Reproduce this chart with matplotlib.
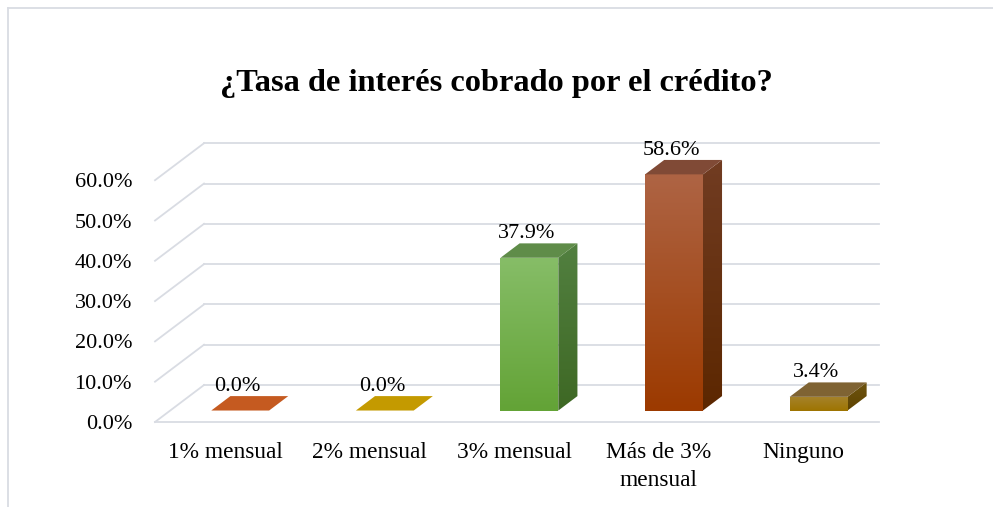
import numpy as np
import matplotlib.pyplot as plt
from matplotlib.patches import Polygon, Rectangle
from matplotlib.colors import LinearSegmentedColormap

plt.rcParams['font.family'] = ['Liberation Serif', 'DejaVu Serif']

# datos
categorias = ['1% mensual', '2% mensual', '3% mensual', 'Más de 3%\nmensual', 'Ninguno']
valores = [0.0, 0.0, 37.9, 58.6, 3.4]
etiquetas = ['0.0%', '0.0%', '37.9%', '58.6%', '3.4%']
ticks = [0, 10, 20, 30, 40, 50, 60]
tick_labels = ['0.0%', '10.0%', '20.0%', '30.0%', '40.0%', '50.0%', '60.0%']
titulo = '¿Tasa de interés cobrado por el crédito?'

# colores: (frente arriba, frente abajo, lado arriba, lado abajo, tapa)
colores = [
    ('#C55A20', '#C55A20', '#8A3C10', '#8A3C10', '#C55A20'),
    ('#C49A00', '#C49A00', '#8A6C00', '#8A6C00', '#C49A00'),
    ('#86BD67', '#63A336', '#528040', '#3E6824', '#5F8C49'),
    ('#AE6444', '#9C3A00', '#713C22', '#5C2700', '#804A36'),
    ('#A5822A', '#9E7400', '#6E5410', '#5E4300', '#7F6333'),
]

W, H = 993, 507
x0px, xstep = 225, 144.6      # pixel de la categoria 0 y paso
y0px, ystep = 422, 4.03       # pixel del 0% y px por 1%
xlim = (-0.484, 4.52)
ylim = (0, 72)
DX, DY = 0.339, 9.18          # profundidad total del piso (en unidades de datos)
f0, f1 = 0.31, 0.70           # profundidad de las barras
ancho = 0.40
grid_c = '#D9DCE3'

fig = plt.figure(figsize=(W / 100, H / 100), dpi=100)
left = (x0px + xlim[0] * xstep) / W
right = (x0px + xlim[1] * xstep) / W
bottom = 1 - (y0px - ylim[0] * ystep) / H
top = 1 - (y0px - ylim[1] * ystep) / H
ax = fig.add_axes([left, bottom, right - left, top - bottom])

xL, xR = xlim
# paredes / lineas de cuadricula
for t in ticks:
    ax.plot([xL, xL + DX], [t, t + DY], color=grid_c, lw=1.3, clip_on=False, zorder=1)
    ax.plot([xL + DX, xR], [t + DY, t + DY], color=grid_c, lw=1.3, clip_on=False, zorder=1)
ax.plot([xL, xR], [0, 0], color=grid_c, lw=1.3, clip_on=False, zorder=1)

dx0, dy0 = f0 * DX, f0 * DY
ddx, ddy = (f1 - f0) * DX, (f1 - f0) * DY


def gradiente(patch, c_top, c_bot, ext):
    cmap = LinearSegmentedColormap.from_list('g', [c_bot, c_top])
    grad = np.linspace(0, 1, 100).reshape(-1, 1)
    im = ax.imshow(grad, cmap=cmap, origin='lower', extent=ext, aspect='auto',
                   zorder=3, clip_on=True)
    im.set_clip_path(patch)


for i, (v, c) in enumerate(zip(valores, colores)):
    xa = i + dx0 - ancho / 2
    xb = i + dx0 + ancho / 2
    yb = dy0
    yt = dy0 + v
    if v > 0:
        front = Rectangle((xa, yb), ancho, v, facecolor='none', edgecolor='none', zorder=3)
        ax.add_patch(front)
        gradiente(front, c[0], c[1], (xa, xb, yb, yt))
        side = Polygon([(xb, yb), (xb + ddx, yb + ddy), (xb + ddx, yt + ddy), (xb, yt)],
                       closed=True, facecolor='none', edgecolor='none', zorder=3)
        ax.add_patch(side)
        gradiente(side, c[2], c[3], (xb, xb + ddx, yb, yt + ddy))
    tapa = Polygon([(xa, yt), (xb, yt), (xb + ddx, yt + ddy), (xa + ddx, yt + ddy)],
                   closed=True, facecolor=c[4], edgecolor='none', zorder=4)
    ax.add_patch(tapa)
    ax.text(i + dx0 - 0.02, yt + ddy, etiquetas[i], ha='center', va='bottom',
            fontsize=16, color='#000000', zorder=5)

ax.set_xlim(*xlim)
ax.set_ylim(*ylim)
ax.set_yticks(ticks)
ax.set_yticklabels(tick_labels, fontsize=16)
ax.set_xticks(range(len(categorias)))
ax.set_xticklabels(categorias, fontsize=16.8, linespacing=1.4)
ax.tick_params(axis='y', length=0, pad=16.5)
ax.tick_params(axis='x', length=0, pad=14.5)
for s in ax.spines.values():
    s.set_visible(False)
ax.patch.set_alpha(0)

fig.text(0.5, 1 - 84 / H, titulo, ha='center', va='center', fontsize=23.3,
         fontweight='bold')

# borde del grafico
bx, by = 8 / W, 1 - 8 / H
fig.add_artist(plt.Line2D([bx, bx], [by, 0], color=grid_c, lw=1.3))
fig.add_artist(plt.Line2D([bx, 1], [by, by], color=grid_c, lw=1.3))

fig.savefig('out.png', dpi=100)
